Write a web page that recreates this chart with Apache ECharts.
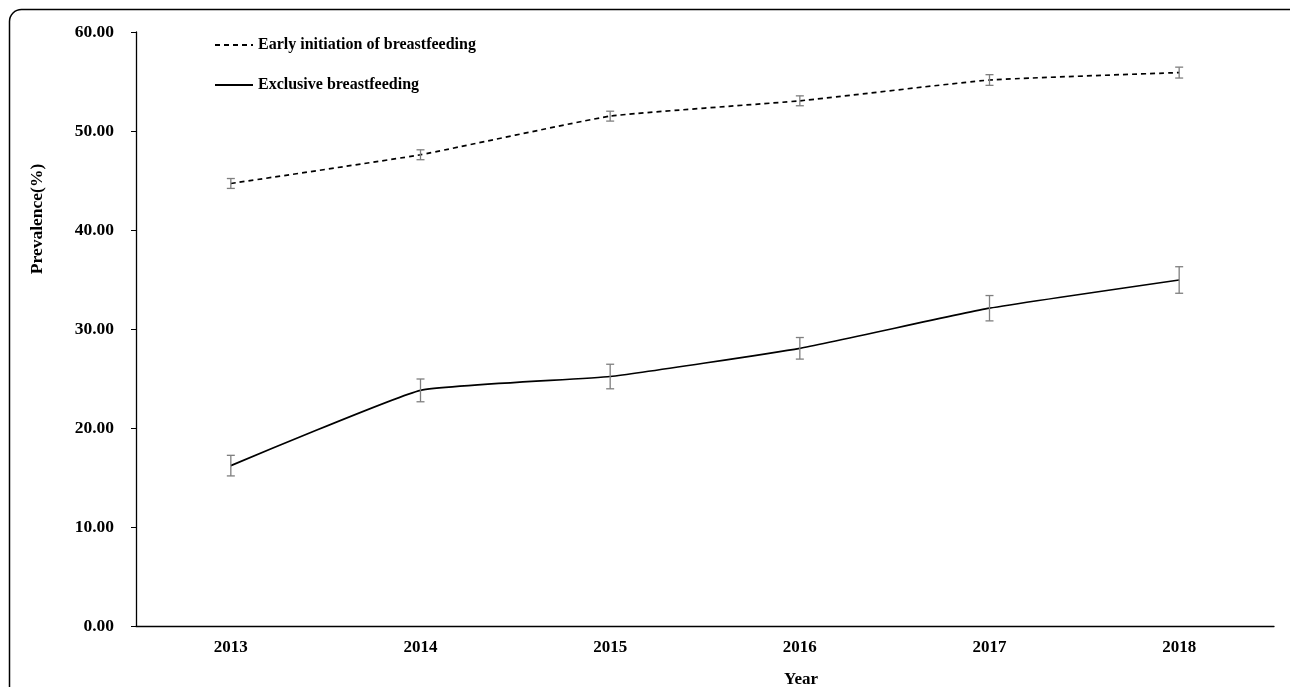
<!DOCTYPE html>
<html>
<head>
<meta charset="utf-8">
<script src="https://cdn.jsdelivr.net/npm/echarts@6/dist/echarts.min.js"></script>
<style>html,body{margin:0;padding:0;background:#fff;}#c{width:1290px;height:687px;}</style>
</head>
<body>
<div id="c"></div>
<script>
const years = ['2013','2014','2015','2016','2017','2018'];
const earlyInit = [44.7, 47.6, 51.5, 53.05, 55.15, 55.9];
const earlyErr = [0.5, 0.5, 0.5, 0.5, 0.54, 0.55];
const exclusive = [16.2, 23.8, 25.2, 28.05, 32.1, 34.95];
const exclusiveErr = [1.04, 1.15, 1.24, 1.09, 1.28, 1.34];
const yTicks = [0, 10, 20, 30, 40, 50, 60];

const FONT = '"Liberation Serif", "Times New Roman", serif';

function errData(vals, errs) {
  return vals.map((v, i) => [i, v - errs[i], v + errs[i]]);
}
function errRender(params, api) {
  const x = api.value(0);
  const lo = api.coord([x, api.value(1)]);
  const hi = api.coord([x, api.value(2)]);
  const w = 4;
  const st = { stroke: '#7f7f7f', lineWidth: 1.3 };
  return {
    type: 'group',
    children: [
      { type: 'line', shape: { x1: hi[0], y1: hi[1], x2: lo[0], y2: lo[1] }, style: st },
      { type: 'line', shape: { x1: hi[0] - w, y1: hi[1], x2: hi[0] + w, y2: hi[1] }, style: st },
      { type: 'line', shape: { x1: lo[0] - w, y1: lo[1], x2: lo[0] + w, y2: lo[1] }, style: st }
    ]
  };
}

const chart = echarts.init(document.getElementById('c'), null, { renderer: 'canvas' });
chart.setOption({
  backgroundColor: '#fff',
  animation: false,
  grid: { left: 136, right: 16, top: 32, bottom: 61, containLabel: false },
  legend: {
    orient: 'vertical',
    left: 214,
    top: 37,
    padding: 0,
    itemGap: 24,
    itemWidth: 38,
    itemHeight: 14,
    itemStyle: { opacity: 0 },
    data: [
      { name: 'Early initiation of breastfeeding' },
      { name: 'Exclusive breastfeeding' }
    ],
    textStyle: { fontFamily: FONT, fontWeight: 'bold', fontSize: 16, color: '#000' }
  },
  xAxis: {
    type: 'category',
    data: years,
    boundaryGap: true,
    axisLine: { lineStyle: { color: '#000', width: 1.3 } },
    axisTick: { inside: true, length: 6, alignWithLabel: false, lineStyle: { color: '#000' } },
    axisLabel: { margin: 13, fontFamily: FONT, fontWeight: 'bold', fontSize: 17, color: '#000' },
    splitLine: { show: false }
  },
  yAxis: {
    type: 'value',
    min: yTicks[0],
    max: yTicks[yTicks.length - 1],
    interval: 10,
    axisLine: { show: true, lineStyle: { color: '#000', width: 1.3 } },
    axisTick: { show: true, length: 5, lineStyle: { color: '#000' } },
    axisLabel: { margin: 22, fontFamily: FONT, fontWeight: 'bold', fontSize: 17.5, color: '#000',
      formatter: v => v.toFixed(2) },
    splitLine: { show: false }
  },
  graphic: [
    { type: 'rect', left: 7, top: 7, shape: { width: 1300, height: 720, r: 12 },
      style: { fill: 'none', stroke: '#000', lineWidth: 1.5 }, silent: true, z: -1 },
    { type: 'text', x: 37, y: 219, rotation: Math.PI / 2,
      style: { text: 'Prevalence(%)', fontFamily: FONT, fontWeight: 'bold', fontSize: 17.5, fill: '#000',
        align: 'center', verticalAlign: 'middle' } },
    { type: 'text', x: 801, y: 680,
      style: { text: 'Year', fontFamily: FONT, fontWeight: 'bold', fontSize: 17, fill: '#000',
        align: 'center', verticalAlign: 'middle' } }
  ],
  series: [
    {
      name: 'Early initiation of breastfeeding',
      type: 'line',
      data: earlyInit,
      symbol: 'none',
      smooth: 0.12,
      lineStyle: { color: '#000', width: 1.7, type: [5, 4] },
      itemStyle: { color: '#000' },
      z: 3
    },
    {
      name: 'Exclusive breastfeeding',
      type: 'line',
      data: exclusive,
      symbol: 'none',
      smooth: 0.12,
      lineStyle: { color: '#000', width: 1.7, type: 'solid' },
      itemStyle: { color: '#000' },
      z: 3
    },
    { type: 'custom', renderItem: errRender, data: errData(earlyInit, earlyErr), z: 4, silent: true },
    { type: 'custom', renderItem: errRender, data: errData(exclusive, exclusiveErr), z: 4, silent: true }
  ]
});
</script>
</body>
</html>
